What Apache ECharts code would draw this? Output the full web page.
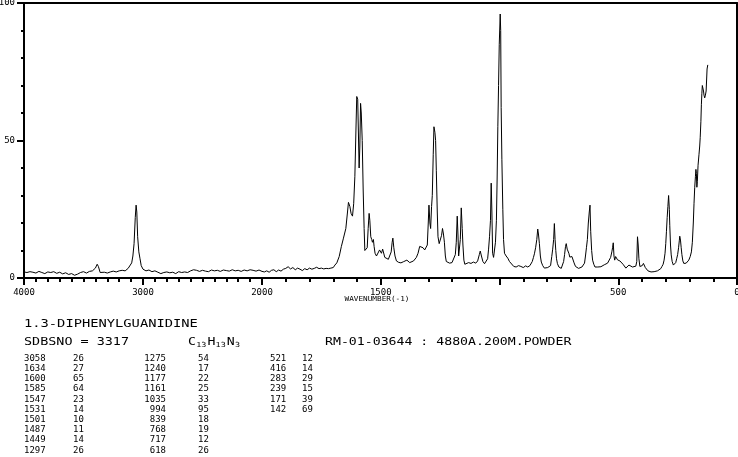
<!DOCTYPE html>
<html><head><meta charset="utf-8">
<script src="https://cdn.jsdelivr.net/npm/echarts@6/dist/echarts.min.js"></script>
<style>html,body{margin:0;padding:0;background:#fff}#c{width:738px;height:457px}</style>
</head><body><div id="c"></div>
<script>
// ---- spectrum, 4000-2000 cm-1 (compressed scale) ----
const wnHigh = [4000,3975,3950,3925,3900,3875,3850,3825,3800,3775,3750,3725,3700,3675,3650,3625,3600,3575,3550,3525,3500,3475,3450,3425,3400,3385,3375,3360,3350,3325,3300,3275,3250,3225,3200,3175,3150,3125,3110,3095,3085,3075,3065,3058,3052,3045,3035,3025,3015,3000,2975,2950,2925,2900,2875,2850,2840,2825,2800,2775,2750,2725,2700,2675,2650,2625,2600,2575,2563,2550,2525,2500,2475,2450,2425,2400,2375,2350,2325,2300,2275,2250,2225,2200,2175,2150,2125,2100,2075,2050,2025,2000];
const intHigh = [2.2,2.0,2.3,2.1,1.8,2.4,2.0,1.6,2.2,2.0,2.3,1.7,2.1,1.5,1.9,1.3,1.6,1.0,1.4,2.0,2.3,1.8,2.4,2.6,3.6,5.0,4.2,2.0,1.4,2.1,1.8,2.2,2.5,2.2,2.6,2.8,2.6,3.5,4.0,5.5,8,12.5,22,26.5,24,15,9.5,7,4.5,3.2,2.6,2.9,2.3,2.6,2.1,1.6,0.9,2.0,2.2,1.9,2.1,1.6,2.3,2.0,2.2,2.0,2.6,3.0,3.7,2.8,2.4,2.8,2.5,2.3,2.9,2.6,2.8,2.4,2.9,2.7,2.5,3.0,2.6,2.8,2.4,2.9,2.6,3.0,2.8,2.5,2.9,2.4];
// ---- spectrum, 2000-0 cm-1 (expanded scale) ----
const wnLow = [2000,1990,1980,1970,1960,1950,1940,1930,1920,1910,1900,1890,1880,1870,1860,1850,1840,1830,1820,1810,1800,1790,1780,1770,1760,1750,1740,1730,1720,1710,1700,1693,1685,1675,1666,1657,1647,1640,1636,1630,1625,1619,1614,1609,1605,1601,1597,1594,1591,1588,1585,1582,1578,1574,1570,1567,1562,1557,1553,1549,1546,1542,1538,1535,1531,1528,1524,1518,1511,1505,1501,1497,1492,1487,1483,1476,1468,1462,1456,1452,1449,1445,1440,1434,1425,1415,1405,1398,1390,1385,1378,1370,1362,1357,1350,1343,1336,1329,1322,1315,1308,1304,1300,1297,1293,1290,1286,1283,1279,1276,1272,1269,1266,1262,1259,1254,1249,1244,1240,1236,1232,1228,1224,1217,1210,1200,1192,1186,1182,1178,1175,1172,1168,1165,1161,1157,1154,1150,1146,1140,1130,1120,1110,1100,1092,1085,1081,1076,1070,1063,1056,1050,1046,1042,1038,1035,1032,1029,1025,1021,1017,1013,1010,1007,1004,1001,997,995,993,990,986,983,979,972,965,958,950,940,930,920,910,900,890,881,872,867,862,857,853,848,843,839,836,832,828,824,818,811,804,797,790,785,780,776,772,769,766,763,760,756,750,745,740,735,730,726,722,719,715,712,708,704,699,695,691,686,680,674,667,660,653,647,642,638,634,630,626,622,619,616,612,608,603,598,593,586,580,573,566,559,552,545,538,532,527,524,521,518,515,511,507,503,498,493,489,485,480,474,468,462,455,448,440,432,426,422,419,416,413,409,404,399,394,390,386,380,375,369,362,355,349,342,335,328,321,316,311,307,303,300,297,294,291,288,285,283,280,277,273,268,263,258,254,250,246,243,241,238,235,232,228,224,219,214,209,203,197,192,188,184,181,178,175,173,171,169,167,164,160,157,155,152,150,148,146,143,141,139,136,133,130,128,126,123];
const intLow = [2.4,2.2,2.6,2.1,2.8,3.0,2.3,2.9,2.5,3.2,3.5,4.1,3.3,3.8,3.0,3.6,3.2,2.7,3.4,3.0,3.6,3.2,3.5,3.9,3.4,3.6,3.3,3.5,3.4,3.6,3.8,4.7,5.5,7.8,11.4,14.5,18,24,27.5,26,23.5,22.5,27,37,52,66,65,64.5,40,48,63.5,60,50,32,18,10,9.5,11,18,23.5,21,15,14,13,14,11.5,9,8,8.5,10.2,10.5,9,10.5,11,7.5,7.2,6.8,7.0,9.5,13,14.5,11,8,6.2,5.7,5.5,5.9,5.5,6.5,6.8,5.6,5.5,6.2,5.6,7.5,9,11.5,12,11,10.2,10.8,12,20,26.5,20,18,26,30,45,55,53,50,39,24,15,12.5,12.8,15.5,18,16,13,8,6,5.6,5.4,5.6,6,8.5,13,22.5,16,8,7.8,14,25.5,18,12,6.5,5.0,5.2,5.6,5.3,5.8,5.4,6.2,8.5,9.8,8,6,5.2,4.6,7,10.5,15,21,34.5,24,9,7.5,8,13,21,36,55,70,85,96,90,62,43,25,14,9,8,7.2,6,5.3,4.2,4.0,4.5,4.2,3.8,4.4,4.0,4.5,4.9,6,7.5,8.8,11,14,17.8,16,12.5,8,5.8,4.5,3.6,3.4,3.8,3.5,4.5,7.8,10.5,14,19.8,14,10,7,5.2,4,3.5,3.5,4.2,6,8.5,11.5,12.5,10.5,10,9,7.6,7.4,7.8,7.2,5.5,4.2,3.6,3.5,3.8,4.0,4.6,5.4,8,11,14,20,24,26.5,17,10,6.5,5,4,3.6,4.0,4.2,4.1,4.4,4.8,4.7,5.4,6,7.5,9.5,11,12.8,8,6.5,7.8,7.5,6.6,7.0,6.2,6.6,5.8,5.0,4.5,3.6,3.9,4.7,4.2,4.0,3.8,4.3,6,15,12,7,4.2,4.0,4.5,5.3,4.8,3.8,3.2,2.6,2.0,2.2,2.0,2.3,2.5,2.6,3.0,3.4,4.2,5,6.5,9,12.5,17,22,26,30,25,19,12,8.4,6,4.7,5.3,5.6,7,8.5,11,13.5,15.2,13.8,11,8.5,6.2,5.3,5,5.4,5.9,6.5,7.8,9.5,13,20,27,33,37,39.5,38,33,35,41,45,48,51,57,63,67,70,69.5,68,66.5,65.5,66.5,68,72,76,77.5];
// ---- axis tick labels ----
const yTickLabels = [0, 50, 100];
const xLabelsHigh = [4000, 3000];
const xLabelsLow = [2000, 1500, 500, 0];
// ---- texts & peak table ----
const compoundName = '1.3-DIPHENYLGUANIDINE';
const sdbsLine = 'SDBSNO = 3317';
const formulaParts = [['C',false],['13',true],['H',false],['13',true],['N',false],['3',true]];
const recordLine = 'RM-01-03644 : 4880A.200M.POWDER';
const xAxisTitle = 'WAVENUMBER(-1)';
const peakWn = [3058,1634,1600,1585,1547,1531,1501,1487,1449,1297,1275,1240,1177,1161,1035,994,839,768,717,618,521,416,283,239,171,142];
const peakInt = [26,27,65,64,23,14,10,11,14,26,54,17,22,25,33,95,18,19,12,26,12,14,29,15,39,69];

const highData = wnHigh.map((w,i)=>[w,intHigh[i]]);
const lowData = wnLow.map((w,i)=>[w,intLow[i]]);

const MONO = '"DejaVu Sans Mono", "Liberation Mono", monospace';
const black = '#000';
const axLine = {show:true, lineStyle:{color:black, width:2}};
const onlyIn = list => (v => list.indexOf(v) >= 0 ? String(v) : '');

const chart = echarts.init(document.getElementById('c'), null, {renderer:'canvas'});

const graphics = [];
graphics.push({type:'text', x:24, y:324, scaleX:1.25, style:{text:compoundName, font:'11px '+MONO, fill:black, align:'left', verticalAlign:'middle'}});
graphics.push({type:'text', x:24, y:342, scaleX:1.22, style:{text:sdbsLine, font:'11px '+MONO, fill:black, align:'left', verticalAlign:'middle'}});
graphics.push({type:'text', x:325, y:342, scaleX:1.2, style:{text:recordLine, font:'11px '+MONO, fill:black, align:'left', verticalAlign:'middle'}});
graphics.push({type:'text', x:377, y:299, scaleX:1.1, style:{text:xAxisTitle, font:'7px '+MONO, fill:black, align:'center', verticalAlign:'middle'}});
(function(){
  let cx = 188;
  formulaParts.forEach(([t,sub])=>{
    graphics.push({type:'text', x:cx, y: sub?345:342, scaleX:1.2, style:{text:t, font:(sub?'7px ':'11px ')+MONO, fill:black, align:'left', verticalAlign:'middle'}});
    cx += sub ? t.length*5.1 + 1 : 8.2;
  });
})();
const colX = [[24,'left'],[73,'left'],[166,'right'],[198,'left'],[270,'left'],[302,'left']];
peakWn.forEach((w,i)=>{
  const col = Math.floor(i/10), row = i%10;
  const y = 358.5 + row*10.2;
  const a = colX[col*2], b = colX[col*2+1];
  graphics.push({type:'text', x:a[0], y:y, style:{text:String(w), font:'9px '+MONO, fill:black, align:a[1], verticalAlign:'middle'}});
  graphics.push({type:'text', x:b[0], y:y, style:{text:String(peakInt[i]), font:'9px '+MONO, fill:black, align:b[1], verticalAlign:'middle'}});
});

const labelStyle = {color:black, fontFamily:MONO, fontSize:9};
const gA = {left:24, top:3, width:238, height:275, outerBoundsMode:'none', containLabel:false};
const gB = {left:262, top:3, width:475, height:275, outerBoundsMode:'none', containLabel:false};
const tickMajor = () => ({show:true, length:7, lineStyle:{color:black, width:2}});
const tickMinor = (splits, len) => ({show:true, splitNumber:splits, length:len, lineStyle:{color:black, width:2}});

chart.setOption({
  animation:false,
  backgroundColor:'#fff',
  grid:[gA, gB],
  xAxis:[
    {type:'value', gridIndex:0, position:'bottom', min:2000, max:4000, interval:1000, inverse:true,
     axisLine:axLine, splitLine:{show:false}, minorSplitLine:{show:false},
     axisTick:tickMajor(), minorTick:tickMinor(10, 4),
     axisLabel:{show:true, formatter:onlyIn(xLabelsHigh), margin:10, ...labelStyle}},
    {type:'value', gridIndex:0, position:'top', min:2000, max:4000, inverse:true,
     axisLine:axLine, splitLine:{show:false}, axisLabel:{show:false}, axisTick:{show:false}},
    {type:'value', gridIndex:1, position:'bottom', min:0, max:2000, interval:500, inverse:true,
     axisLine:axLine, splitLine:{show:false}, minorSplitLine:{show:false},
     axisTick:tickMajor(), minorTick:tickMinor(5, 4),
     axisLabel:{show:true, formatter:onlyIn(xLabelsLow), margin:10, ...labelStyle}},
    {type:'value', gridIndex:1, position:'top', min:0, max:2000, inverse:true,
     axisLine:axLine, splitLine:{show:false}, axisLabel:{show:false}, axisTick:{show:false}}
  ],
  yAxis:[
    {type:'value', gridIndex:0, position:'left', min:0, max:100, interval:50,
     axisLine:axLine, splitLine:{show:false}, minorSplitLine:{show:false},
     axisTick:tickMajor(), minorTick:tickMinor(5, 3),
     axisLabel:{show:true, margin:9, formatter:onlyIn(yTickLabels), ...labelStyle}},
    {type:'value', gridIndex:1, position:'right', min:0, max:100,
     axisLine:axLine, splitLine:{show:false}, axisTick:{show:false}, axisLabel:{show:false}}
  ],
  series:[
    {type:'line', xAxisIndex:0, yAxisIndex:0, data:highData, showSymbol:false, symbol:'none',
     lineStyle:{color:black, width:1}, silent:true},
    {type:'line', xAxisIndex:2, yAxisIndex:1, data:lowData, showSymbol:false, symbol:'none',
     lineStyle:{color:black, width:1}, silent:true}
  ],
  graphic:graphics
});
</script></body></html>
